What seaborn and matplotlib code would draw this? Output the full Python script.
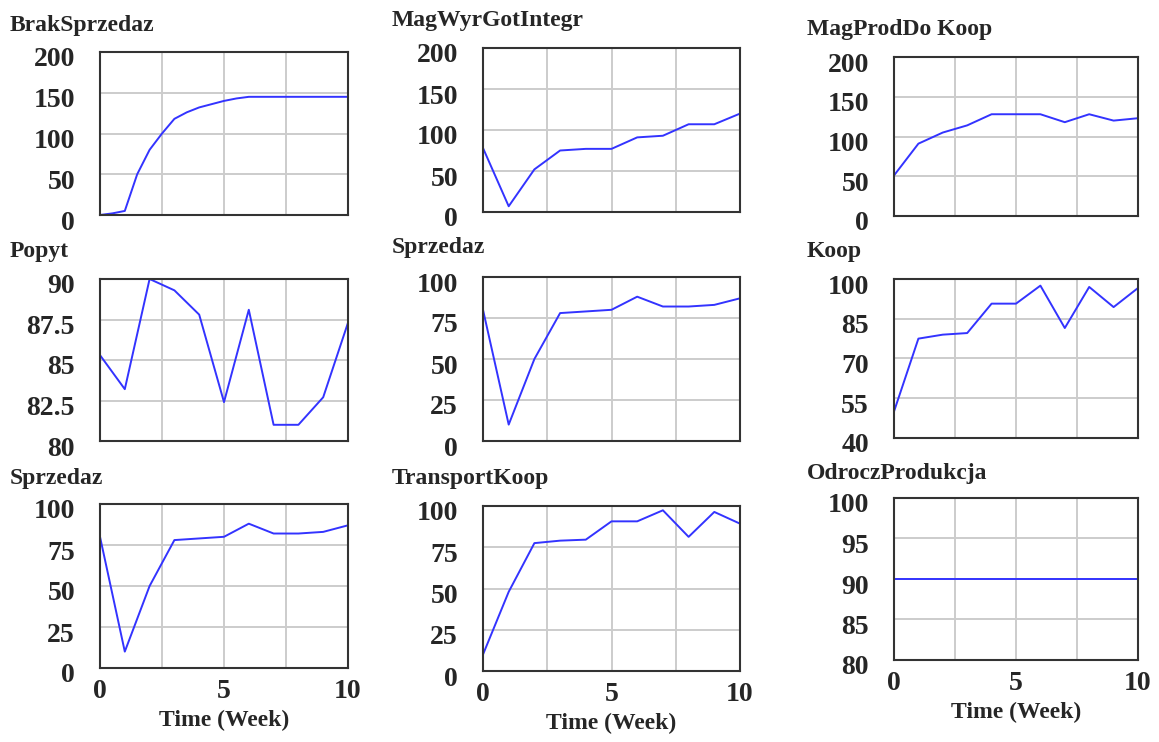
import matplotlib
matplotlib.use("Agg")
import matplotlib.pyplot as plt
import matplotlib.transforms as mtransforms
import seaborn as sns
import numpy as np

# dane
weeks = [0, 1, 2, 3, 4, 5, 6, 7, 8, 9, 10]
brak_weeks = [0, 0.5, 1, 1.5, 2, 2.5, 3, 3.5, 4, 4.5, 5, 5.5, 6, 7, 8, 9, 10]
brak_sprzedaz = [0, 2, 5, 50, 80, 100, 118, 126, 132, 136, 140, 143, 145, 145, 145, 145, 145]
mag_wyr_got = [78, 7, 52, 75, 77, 77, 91, 93, 107, 107, 120]
mag_prod_koop = [51, 91, 105, 114, 128, 128, 128, 118, 128, 120, 123]
popyt = [85.3, 83.2, 90, 89.3, 87.8, 82.4, 88.1, 81, 81, 82.7, 87.3]
sprzedaz = [80, 10, 50, 78, 79, 80, 88, 82, 82, 83, 87]
koop = [50, 77.5, 79, 79.6, 90.7, 90.7, 97.5, 81.5, 97, 89.4, 96.6]
transport_koop = [10, 48, 77.5, 79, 79.6, 90.7, 90.7, 97.4, 81.3, 96.4, 89.3]
odrocz_produkcja = [90, 90, 90, 90, 90, 90, 90, 90, 90, 90, 90]

titles = ["BrakSprzedaz", "MagWyrGotIntegr", "MagProdDo Koop",
          "Popyt", "Sprzedaz", "Koop",
          "Sprzedaz", "TransportKoop", "OdroczProdukcja"]
series = [(brak_weeks, brak_sprzedaz), (weeks, mag_wyr_got), (weeks, mag_prod_koop),
          (weeks, popyt), (weeks, sprzedaz), (weeks, koop),
          (weeks, sprzedaz), (weeks, transport_koop), (weeks, odrocz_produkcja)]
yticks = [[0, 50, 100, 150, 200], [0, 50, 100, 150, 200], [0, 50, 100, 150, 200],
          [80, 82.5, 85, 87.5, 90], [0, 25, 50, 75, 100], [40, 55, 70, 85, 100],
          [0, 25, 50, 75, 100], [0, 25, 50, 75, 100], [80, 85, 90, 95, 100]]

# pozycje osi w pikselach: lewo, prawo, gora, dol
boxes = [(100, 348, 52, 215), (483, 740, 48, 212), (894, 1138, 57, 216),
         (100, 348, 279, 441), (483, 740, 277, 441), (894, 1138, 279, 438),
         (100, 348, 504, 668), (483, 740, 506, 671), (894, 1138, 498, 660)]
title_pos = [(10, 31), (392, 26), (807, 35),
             (10, 257), (392, 253), (807, 257),
             (10, 484), (392, 484), (807, 479)]

sns.set_style("white")
plt.rcParams['font.family'] = ['Liberation Serif', 'DejaVu Serif']
plt.rcParams['font.weight'] = 'bold'

W, H = 1159, 742
fig = plt.figure(figsize=(W / 100, H / 100), dpi=100)
fig.patch.set_facecolor("white")

shift = mtransforms.ScaledTranslation(0, -5 / 100, fig.dpi_scale_trans)

for i in range(9):
    l, r, t, b = boxes[i]
    ax = fig.add_axes([l / W, 1 - b / H, (r - l) / W, (b - t) / H])
    x, y = series[i]
    sns.lineplot(x=x, y=y, ax=ax, color="#3333ff", linewidth=1.4)
    ax.set_xlim(0, 10)
    ax.set_ylim(yticks[i][0], yticks[i][-1])
    ax.set_yticks(yticks[i])
    ax.set_yticklabels(["{:g}".format(v) for v in yticks[i]])
    ax.set_xticks([0, 5, 10])
    ax.set_xticks([2.5, 7.5], minor=True)
    ax.grid(True, which="both", color="#cccccc", linewidth=1.4)
    ax.tick_params(axis="both", which="both", length=0, labelsize=20, pad=18)
    ax.tick_params(axis="x", pad=8)
    for lab in ax.get_yticklabels():
        lab.set_fontweight("bold")
        lab.set_transform(lab.get_transform() + shift)
    if i >= 6:
        ax.set_xticklabels(["0", "5", "10"], fontweight="bold")
        fig.text((l + r) / 2 / W, 1 - (b + 58) / H, "Time (Week)",
                 ha="center", va="baseline", fontsize=17, fontweight="bold")
    else:
        ax.set_xticklabels([])
    ax.set_xlabel("")
    ax.set_ylabel("")
    for sp in ax.spines.values():
        sp.set_visible(True)
        sp.set_color("#333333")
        sp.set_linewidth(1.5)
    tx, ty = title_pos[i]
    fig.text(tx / W, 1 - ty / H, titles[i], ha="left", va="baseline",
             fontsize=17, fontweight="bold")

fig.savefig("out.png", dpi=100, facecolor="white")
